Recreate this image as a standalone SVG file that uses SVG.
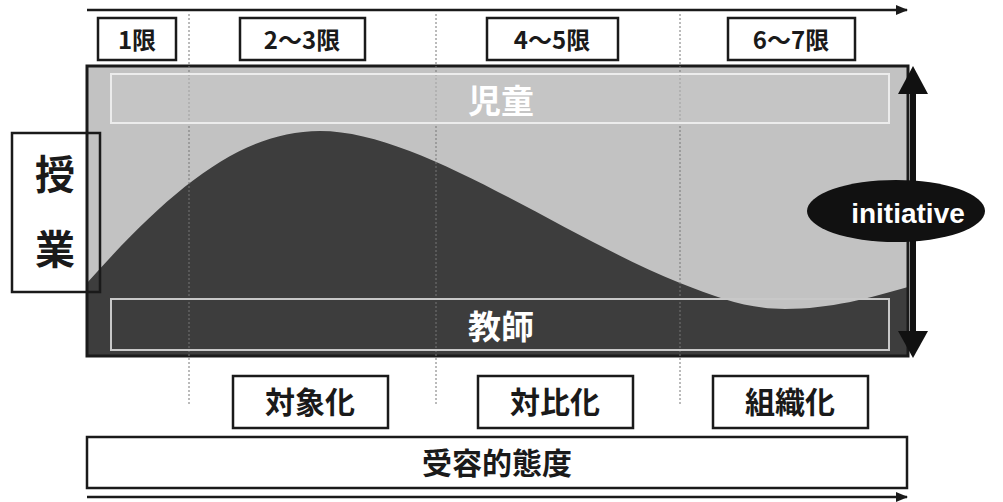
<svg xmlns="http://www.w3.org/2000/svg" width="1003" height="502" viewBox="0 0 1003 502">
<defs>
<marker id="ah" viewBox="0 0 10 10" refX="9" refY="5" markerWidth="5" markerHeight="5" orient="auto" markerUnits="strokeWidth">
<path d="M0,1 L10,5 L0,9 z" fill="#1a1a1a"/>
</marker>
</defs>
<style>
.box{fill:#fff;stroke:#1a1a1a;stroke-width:2.5}
.lbl{font-family:"Noto Sans CJK JP","Liberation Sans",sans-serif;font-weight:bold;fill:#1a1a1a;text-anchor:middle}
.wlbl{font-family:"Noto Sans CJK JP","Liberation Sans",sans-serif;font-weight:bold;fill:#fff;text-anchor:middle}
.dot{stroke:#777;stroke-width:1;stroke-dasharray:2 2;fill:none}
.head{fill:#111}
</style>
<rect width="1003" height="502" fill="#fff"/>

<g id="timeline">
<line x1="87" y1="10" x2="907" y2="10" stroke="#1a1a1a" stroke-width="2.5" marker-end="url(#ah)"/>
</g>

<g id="main">
<rect x="87" y="66" width="821" height="290" fill="#c2c2c2"/>
<path d="M87,283 C170,190 240,131 320,131 C420,131 560,235 680,283 C720,299 750,309 785,309 C830,309 870,298 908,287 L908,356 L87,356 Z" fill="#3d3d3d"/>
<rect x="87" y="66" width="821" height="290" fill="none" stroke="#1a1a1a" stroke-width="3"/>
</g>

<g id="dividers">
<line class="dot" x1="189" y1="14" x2="189" y2="405"/>
<line class="dot" x1="436" y1="14" x2="436" y2="405"/>
<line class="dot" x1="680" y1="14" x2="680" y2="405"/>
</g>

<g id="jidou">
<rect x="111" y="74" width="778" height="49" fill="#c8c8c8" fill-opacity="0.5" stroke="#ececec" stroke-width="2"/>
<text class="wlbl" x="501" y="113" font-size="33">児童</text>
</g>

<g id="kyoushi">
<rect x="111" y="299" width="778" height="51" fill="none" stroke="#c8c8c8" stroke-width="2"/>
<text class="wlbl" x="501" y="339" font-size="33">教師</text>
</g>

<g id="period1">
<rect class="box" x="98" y="18" width="78" height="42"/>
<text class="lbl" x="137" y="49" font-size="24">1限</text>
</g>
<g id="period23">
<rect class="box" x="240" y="18" width="125" height="42"/>
<text class="lbl" x="302" y="49" font-size="24">2～3限</text>
</g>
<g id="period45">
<rect class="box" x="487" y="18" width="131" height="42"/>
<text class="lbl" x="552" y="49" font-size="24">4～5限</text>
</g>
<g id="period67">
<rect class="box" x="728" y="18" width="127" height="42"/>
<text class="lbl" x="791" y="49" font-size="24">6～7限</text>
</g>

<g id="jugyou">
<rect x="12" y="133" width="88" height="159" fill="none" stroke="#1a1a1a" stroke-width="2.5"/>
<text class="lbl" x="55" y="189" font-size="40">授</text>
<text class="lbl" x="55" y="264" font-size="40">業</text>
</g>

<g id="connectors">
<line x1="913" y1="88" x2="913" y2="336" stroke="#111" stroke-width="6"/>
<polygon class="head" points="913,66 898,94 928,94"/>
<polygon class="head" points="913,358 898,331 928,331"/>
</g>

<g id="initiative">
<ellipse cx="896" cy="211" rx="89" ry="31" fill="#111"/>
<text x="908" y="223" font-family="Liberation Sans, Arial, sans-serif" font-weight="bold" font-size="28" fill="#fff" text-anchor="middle">initiative</text>
</g>

<g id="taishouka">
<rect class="box" x="233" y="376" width="155" height="52"/>
<text class="lbl" x="310" y="413" font-size="30">対象化</text>
</g>
<g id="taihika">
<rect class="box" x="478" y="376" width="155" height="52"/>
<text class="lbl" x="555" y="413" font-size="30">対比化</text>
</g>
<g id="soshikika">
<rect class="box" x="713" y="376" width="155" height="52"/>
<text class="lbl" x="790" y="413" font-size="30">組織化</text>
</g>

<g id="juyou">
<rect class="box" x="87" y="437" width="820" height="51"/>
<text class="lbl" x="497" y="474" font-size="30">受容的態度</text>
</g>

<g id="bottomline">
<line x1="87" y1="497" x2="907" y2="497" stroke="#1a1a1a" stroke-width="2.5" marker-end="url(#ah)"/>
</g>
</svg>
